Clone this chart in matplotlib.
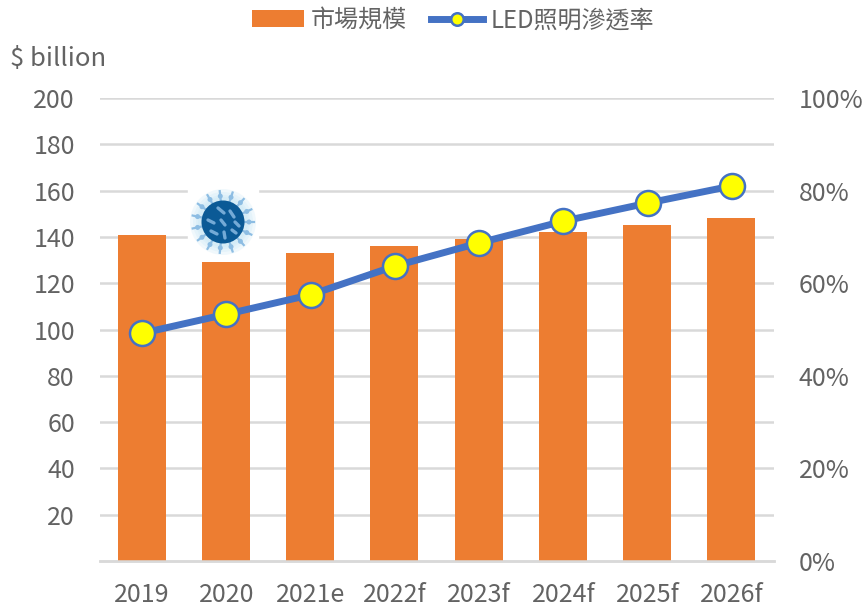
import numpy as np
import matplotlib
matplotlib.use("Agg")
import matplotlib.pyplot as plt
from matplotlib.patches import Ellipse, Rectangle

plt.rcParams['font.family'] = ['Noto Sans CJK TC', 'DejaVu Sans']

years = ['2019', '2020', '2021e', '2022f', '2023f', '2024f', '2025f', '2026f']
market_size = [141, 129, 133, 136, 139, 142, 145, 148]
penetration = [49.2, 53.3, 57.5, 63.7, 68.7, 73.4, 77.3, 81.0]
left_ticks = list(range(20, 201, 20))
right_ticks = list(range(0, 101, 20))

W, H = 864, 604
GREY = '#636363'

def virus(fig, cx, cy):
    # small decorative icon, figure pixels with y measured from the top
    t = fig.transFigure
    def fx(x):
        return x / W
    def fy(y):
        return 1 - y / H
    def blob(dx, dy, w, h, color, z, alpha=1):
        fig.patches.append(Ellipse((fx(cx + dx), fy(cy + dy)), w / W, h / H, transform=t, color=color,
                                   alpha=alpha, lw=0, zorder=z))
    fig.patches.append(Rectangle((fx(cx - 35), fy(cy + 35)), 70 / W, 70 / H, transform=t, color='white', zorder=5))
    for r in (33, 30, 27, 25):
        blob(0, 0, 2 * r, 2 * r, '#bfe3f5', 6, 0.22)
    for ang in np.arange(0, 360, 24):
        c, s = np.cos(np.radians(ang)), np.sin(np.radians(ang))
        fig.add_artist(plt.Line2D([fx(cx + 18 * c), fx(cx + 31 * c)], [fy(cy + 18 * s), fy(cy + 31 * s)],
                                  transform=t, color='#8dbde3', lw=1.6, zorder=7))
        blob(26 * c, 26 * s, 5, 5, '#8dbde3', 7)
    blob(0, 0, 43, 43, '#0b5a96', 8)
    for dx1, dy1, dx2, dy2 in [(-5, -14, 1, -9), (7, -11, 11, -5), (-15, -2, -9, 1), (-2, -2, 2, 3),
                               (12, 0, 16, 4), (-12, 9, -6, 12), (1, 10, 2, 16), (9, 8, 13, 11)]:
        fig.add_artist(plt.Line2D([fx(cx + dx1), fx(cx + dx2)], [fy(cy + dy1), fy(cy + dy2)], transform=t,
                                  color='#74aad6', lw=2.4, solid_capstyle='round', zorder=9))

fig = plt.figure(figsize=(W / 100, H / 100), dpi=100)
ax = fig.add_axes([100 / W, 1 - 561 / H, 674 / W, 463 / H])
ax2 = ax.twinx()

x = np.arange(len(years))
ax.bar(x - 0.005, market_size, width=0.57, color='#ED7D31', label='市場規模', zorder=3)
ax.set_xlim(-0.5, len(years) - 0.5)
ax.set_ylim(0, 200)
ax.set_xticks(x)
ax.set_xticklabels(years)
ax.set_yticks(left_ticks)
ax.grid(axis='y', color='#D9D9D9', lw=1.8, zorder=0)
ax.set_axisbelow(True)

ax2.plot(x, penetration, color='#4472C4', lw=5, marker='o', ms=18, mfc='#FFFF00', mec='#4472C4', mew=1.8,
         label='LED照明滲透率', zorder=4)
ax2.set_ylim(0, 100)
ax2.set_yticks(right_ticks)
ax2.set_yticklabels([f'{v}%' for v in right_ticks])

for a in (ax, ax2):
    for side in ('top', 'left', 'right'):
        a.spines[side].set_visible(False)
    a.spines['bottom'].set_color('#D9D9D9')
    a.spines['bottom'].set_linewidth(1.8)
    a.tick_params(length=0, labelsize=18, labelcolor=GREY)
ax.tick_params(axis='y', pad=18)
ax.tick_params(axis='x', pad=15)
ax2.tick_params(axis='y', pad=18)

fig.text(10 / W, 1 - 59 / H, '$ billion', fontsize=18.5, color=GREY, va='center', ha='left')

h1, l1 = ax.get_legend_handles_labels()
h2, l2 = ax2.get_legend_handles_labels()
leg = fig.legend(h1 + h2, l1 + l2, ncol=2, loc='center', bbox_to_anchor=(453 / W, 1 - 20 / H), frameon=False,
                 fontsize=17.3, labelcolor=GREY, handlelength=2.15, columnspacing=1.0, handletextpad=0.3,
                 markerscale=0.5)

virus(fig, 223, 222)

fig.savefig('out.png', dpi=100)
